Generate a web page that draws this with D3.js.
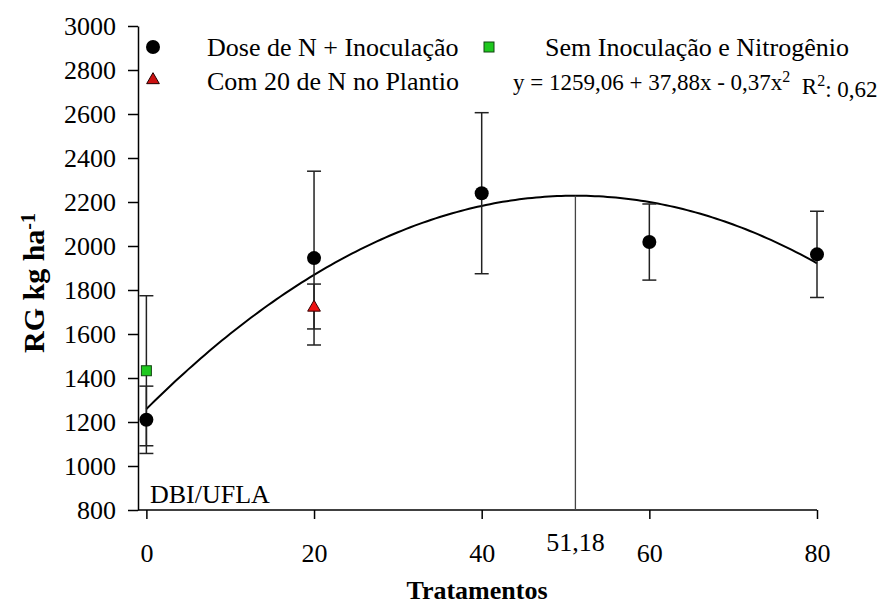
<!DOCTYPE html>
<html>
<head>
<meta charset="utf-8">
<script src="https://cdn.jsdelivr.net/npm/d3@7"></script>
<style>
  html, body { margin: 0; padding: 0; background: #fff; }
</style>
</head>
<body>
<svg id="chart" width="884" height="605"></svg>
<script>
// Nitrogen doses (kg/ha) and grain yield means with error bars
const doses = [0, 20, 40, 60, 80];
const yieldInoc = [1210, 1945, 2240, 2018, 1962];
const errInoc = [153, 395, 366, 173, 196];

// Control without inoculation and nitrogen
const semDose = [0];
const semYield = [1433];
const semErr = [341];

// 20 kg N at sowing
const comDose = [20];
const comYield = [1725];
const comErr = [102];

// Fitted quadratic: y = b0 + b1 x + b2 x^2
const coef = [1259.06, 37.88, -0.37];
const xMax = 51.18;

const xTicks = [0, 20, 40, 60, 80];
const yTicks = [800, 1000, 1200, 1400, 1600, 1800, 2000, 2200, 2400, 2600, 2800, 3000];

const SERIF = "Liberation Serif";
const FONT = 26;

const svg = d3.select("#chart");
const x = d3.scaleLinear().domain([-1, 80]).range([138, 817]);
const y = d3.scaleLinear().domain([800, 3000]).range([510, 26]);

// Y axis
const yAxis = svg.append("g")
  .attr("transform", `translate(${x(-1)},0)`)
  .call(d3.axisLeft(y).tickValues(yTicks).tickFormat(d3.format("d"))
    .tickSize(10).tickSizeOuter(0).tickPadding(12));
yAxis.attr("font-family", SERIF).attr("font-size", FONT);
yAxis.selectAll("text").attr("dy", "0.34em");

// X axis
const xAxis = svg.append("g")
  .attr("transform", `translate(0,${y(800)})`)
  .call(d3.axisBottom(x).tickValues(xTicks).tickFormat(d3.format("d"))
    .tickSize(9).tickSizeOuter(0).tickPadding(25));
xAxis.attr("font-family", SERIF).attr("font-size", FONT);
xAxis.selectAll("text").attr("dy", "0.71em");

svg.selectAll(".domain, .tick line").attr("stroke", "#000").attr("stroke-width", 1.5);
// Trim the x domain so it starts at the y axis
xAxis.select(".domain").attr("d", `M${x(-1)},0H${x(80)}`);

function label(px, py, txt, size) {
  const t = svg.append("text").attr("x", px).attr("y", py)
    .attr("font-family", SERIF).attr("font-size", size);
  if (txt) t.text(txt);
  return t;
}

// Label for the dose of maximum yield
label(x(xMax), 551, "51,18", FONT).attr("text-anchor", "middle");

// Axis titles
label(477, 599, "Tratamentos", FONT).attr("text-anchor", "middle").attr("font-weight", "bold");

const yTitle = svg.append("text")
  .attr("transform", "translate(44,283) rotate(-90)")
  .attr("text-anchor", "middle")
  .attr("font-family", SERIF)
  .attr("font-size", 30).attr("font-weight", "bold");
yTitle.append("tspan").text("RG kg ha");
yTitle.append("tspan").attr("dy", "-0.45em").attr("font-size", 20).text("-1");

// Fitted curve
const fit = v => coef[0] + coef[1] * v + coef[2] * v * v;
const curveX = d3.range(0, 80.01, 0.5);
svg.append("path")
  .datum(curveX)
  .attr("fill", "none").attr("stroke", "#000").attr("stroke-width", 2)
  .attr("d", d3.line().x(d => x(d)).y(d => y(fit(d))));

// Drop line at the maximum
svg.append("line")
  .attr("x1", x(xMax)).attr("x2", x(xMax))
  .attr("y1", y(fit(xMax))).attr("y2", y(800))
  .attr("stroke", "#444").attr("stroke-width", 1.3);

// Error bars
function errorBars(xs, ys, es) {
  const g = svg.append("g").attr("stroke", "#222").attr("stroke-width", 1.5);
  xs.forEach((d, i) => {
    const cx = x(d), lo = y(ys[i] - es[i]), hi = y(ys[i] + es[i]);
    g.append("line").attr("x1", cx).attr("x2", cx).attr("y1", lo).attr("y2", hi);
    g.append("line").attr("x1", cx - 7).attr("x2", cx + 7).attr("y1", lo).attr("y2", lo);
    g.append("line").attr("x1", cx - 7).attr("x2", cx + 7).attr("y1", hi).attr("y2", hi);
  });
}
errorBars(semDose, semYield, semErr);
errorBars(doses, yieldInoc, errInoc);
errorBars(comDose, comYield, comErr);

// Markers
const sq = 10;
svg.selectAll(".sem").data(semDose).join("rect")
  .attr("x", (d) => x(d) - sq / 2).attr("y", (d, i) => y(semYield[i]) - sq / 2)
  .attr("width", sq).attr("height", sq)
  .attr("fill", "#1ec81e").attr("stroke", "#114411").attr("stroke-width", 1);

svg.selectAll(".inoc").data(doses).join("circle")
  .attr("cx", d => x(d)).attr("cy", (d, i) => y(yieldInoc[i])).attr("r", 7)
  .attr("fill", "#000");

const tri = d3.symbol().type(d3.symbolTriangle).size(70);
svg.selectAll(".com").data(comDose).join("path")
  .attr("d", tri)
  .attr("transform", (d, i) => `translate(${x(d)},${y(comYield[i]) + 1})`)
  .attr("fill", "#ee1111").attr("stroke", "#330000").attr("stroke-width", 1);

// DBI/UFLA tag
label(150, 503, "DBI/UFLA", FONT);

// Legend
svg.append("circle").attr("cx", 153).attr("cy", 47).attr("r", 7).attr("fill", "#000");
label(207, 56, "Dose de N + Inoculação", FONT);
svg.append("path").attr("d", tri).attr("transform", "translate(153,80)")
  .attr("fill", "#cc1111").attr("stroke", "#220000").attr("stroke-width", 1);
label(207, 90, "Com 20 de N no Plantio", FONT);
svg.append("rect").attr("x", 484).attr("y", 42).attr("width", 10).attr("height", 10)
  .attr("fill", "#1ec81e").attr("stroke", "#114411").attr("stroke-width", 1);
label(545, 56, "Sem Inoculação e Nitrogênio", FONT);

// Regression equation
const eq = label(513, 90, null, 23);
eq.append("tspan").text("y = 1259,06 + 37,88x - 0,37x");
eq.append("tspan").attr("dy", "-0.5em").attr("font-size", 16).text("2");
eq.append("tspan").attr("dy", "0.5em").text("\u00a0 R");
eq.append("tspan").attr("dy", "-0.5em").attr("font-size", 16).text("2");
eq.append("tspan").attr("dy", "0.5em").text(": 0,62");
</script>
</body>
</html>
